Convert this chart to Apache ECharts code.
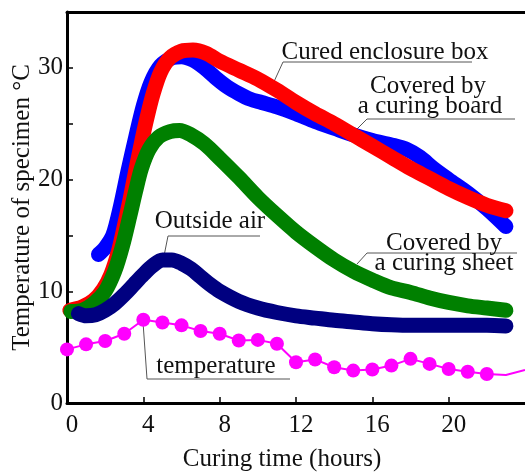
<!DOCTYPE html>
<html>
<head>
<meta charset="utf-8">
<script src="https://cdn.jsdelivr.net/npm/echarts@6/dist/echarts.min.js"></script>
<style>
  html, body { margin: 0; padding: 0; background: #fff; }
  #chart { width: 525px; height: 472px; }
</style>
</head>
<body>
<div id="chart"></div>
<script>
// curing time (hours) and specimen temperature (°C) per condition
const boxHours = [0.15, 0.8, 1.4, 1.9, 2.3, 2.7, 3.0, 3.3, 3.6, 3.9, 4.2, 4.5, 4.9, 5.4, 6.0, 6.6, 7.3, 8.0, 9.0, 10.0, 11.0, 12.0, 13.0, 14.0, 15.0, 16.0, 17.0, 18.0, 19.0, 20.0, 21.0, 22.0, 23.0];
const boxTemp = [8.3, 8.6, 9.2, 10.2, 11.5, 13.6, 15.8, 18.2, 20.8, 23.3, 25.6, 27.6, 29.6, 30.9, 31.5, 31.6, 31.3, 30.6, 29.8, 29.0, 28.0, 26.9, 25.9, 25.0, 24.0, 23.0, 22.0, 21.0, 20.1, 19.2, 18.4, 17.7, 17.2];

const boardHours = [1.65, 2.0, 2.4, 2.8, 3.2, 3.6, 4.0, 4.4, 4.9, 5.5, 6.0, 6.6, 7.2, 7.8, 8.4, 9.0, 9.6, 10.2, 11.0, 12.0, 13.0, 14.0, 15.0, 16.0, 17.0, 17.8, 18.5, 19.2, 20.0, 21.0, 22.0, 23.0];
const boardTemp = [13.3, 13.9, 15.0, 17.6, 20.8, 23.8, 26.6, 28.7, 30.2, 30.9, 31.0, 30.7, 30.0, 29.1, 28.3, 27.7, 27.2, 26.9, 26.5, 25.9, 25.2, 24.6, 24.0, 23.5, 23.1, 22.7, 22.0, 21.0, 20.0, 18.8, 17.4, 15.8];

const sheetHours = [0.2, 0.8, 1.4, 2.0, 2.5, 2.9, 3.3, 3.6, 3.9, 4.3, 4.8, 5.4, 5.9, 6.5, 7.2, 8.0, 9.0, 10.0, 11.0, 12.0, 13.0, 14.0, 15.0, 16.0, 17.0, 18.0, 19.0, 20.0, 21.0, 22.0, 23.0];
const sheetTemp = [8.2, 8.3, 8.9, 10.0, 11.8, 14.0, 16.8, 19.0, 21.0, 22.7, 23.8, 24.3, 24.4, 24.0, 23.2, 21.9, 20.2, 18.4, 16.8, 15.3, 14.0, 12.8, 11.8, 11.0, 10.3, 9.9, 9.4, 9.0, 8.7, 8.5, 8.3];

const airHours = [0.6, 1.0, 1.5, 2.0, 2.5, 3.0, 3.5, 4.0, 4.5, 5.0, 5.5, 6.0, 6.5, 7.0, 7.5, 8.0, 9.0, 10.0, 11.0, 12.0, 13.0, 14.0, 15.0, 16.0, 17.0, 18.0, 19.0, 20.0, 21.0, 22.0, 23.0];
const airTemp = [8.0, 7.8, 7.9, 8.3, 8.9, 9.7, 10.6, 11.5, 12.3, 12.8, 12.8, 12.5, 12.0, 11.3, 10.6, 10.0, 9.1, 8.5, 8.1, 7.8, 7.6, 7.4, 7.25, 7.1, 7.0, 6.95, 6.95, 6.95, 6.95, 6.95, 6.9];

// outside temperature, read hourly (last two points carry no marker)
const outsideHours = [0, 1, 2, 3, 4, 5, 6, 7, 8, 9, 10, 11, 12, 13, 14, 15, 16, 17, 18, 19, 20, 21, 22, 23, 24];
const outsideTemp = [4.8, 5.25, 5.55, 6.2, 7.45, 7.2, 6.95, 6.45, 6.2, 5.6, 5.65, 5.3, 3.65, 3.9, 3.2, 2.9, 3.0, 3.35, 3.95, 3.5, 3.05, 2.8, 2.6, 2.5, 2.95];
const markedCount = 23;

const xTicks = [0, 4, 8, 12, 16, 20];
const yTicks = [0, 10, 20, 30];

const serifFamily = 'Liberation Serif';
const chart = echarts.init(document.getElementById('chart'));

const pairs = (xs, ys) => xs.map((x, i) => [x, ys[i]]);

const thick = (name, xs, ys, color) => ({
  name,
  type: 'line',
  data: pairs(xs, ys),
  smooth: 0.3,
  showSymbol: false,
  silent: true,
  lineStyle: { color, width: 15, cap: 'round', join: 'round' },
});

const outsideData = outsideHours.map((h, i) =>
  i < markedCount ? [h, outsideTemp[i]] : { value: [h, outsideTemp[i]], symbol: 'none' }
);

const textEl = (text, x, y) => ({
  type: 'text',
  style: { text, x, y, font: '25px ' + serifFamily, fill: '#111', align: 'center', verticalAlign: 'middle' },
});
const leader = (points) => ({
  type: 'polyline',
  shape: { points },
  style: { stroke: '#555', lineWidth: 1, fill: null },
});

const labelText = { fontFamily: serifFamily, fontSize: 25, color: '#111' };

const option = {
  animation: false,
  textStyle: { fontFamily: serifFamily },
  grid: { left: 67, right: 0, top: 12, bottom: 69, outerBoundsMode: 'none' },
  xAxis: [
    {
      type: 'value',
      min: 0,
      max: 24,
      interval: 4,
      name: 'Curing time (hours)',
      nameLocation: 'middle',
      nameGap: 44,
      nameMoveOverlap: false,
      nameTextStyle: { ...labelText, padding: [0, 28, 0, 0] },
      axisLine: { lineStyle: { color: '#000', width: 3 } },
      axisTick: { inside: true, length: 6, lineStyle: { color: '#000', width: 1.5 } },
      axisLabel: {
        ...labelText, margin: 10,
        padding: [0, 0, 0, 10], showMaxLabel: false,
        formatter: (v) => (xTicks.includes(v) ? String(v) : ''),
      },
      splitLine: { show: false },
    },
    {
      type: 'value',
      position: 'top',
      min: 0,
      max: 24,
      axisLine: { show: true, lineStyle: { color: '#000', width: 3 } },
      axisTick: { show: false },
      axisLabel: { show: false },
      splitLine: { show: false },
    },
  ],
  yAxis: {
    type: 'value',
    min: 0,
    max: 35,
    interval: 5,
    name: 'Temperature of specimen °C',
    nameLocation: 'middle',
    nameGap: 32,
    nameMoveOverlap: false,
    nameTextStyle: labelText,
    axisLine: { show: true, lineStyle: { color: '#000', width: 3 } },
    axisTick: { inside: true, length: 6, lineStyle: { color: '#000', width: 1.5 } },
    axisLabel: {
      ...labelText, margin: 4,
      formatter: (v) => (yTicks.includes(v) ? String(v) : ''),
    },
    splitLine: { show: false },
  },
  series: [
    thick('Covered by a curing board', boardHours, boardTemp, '#0000ff'),
    thick('Cured enclosure box', boxHours, boxTemp, '#ff0000'),
    thick('Covered by a curing sheet', sheetHours, sheetTemp, '#008000'),
    thick('Outside air', airHours, airTemp, '#000080'),
    {
      name: 'temperature',
      type: 'line',
      data: outsideData,
      symbol: 'circle',
      symbolSize: 14,
      silent: true,
      itemStyle: { color: '#ff00ff' },
      lineStyle: { color: '#ff00ff', width: 2 },
    },
  ],
  graphic: [
    leader([[472, 62], [283, 62], [272, 86]]),
    textEl('Cured enclosure box', 385, 52),
    leader([[515, 119], [367, 119], [355, 131]]),
    textEl('Covered by', 428, 86),
    textEl('a curing board', 430, 106),
    leader([[517, 253], [367, 253], [357, 264]]),
    textEl('Covered by', 444, 243),
    textEl('a curing sheet', 444, 263),
    leader([[260, 236], [168, 236], [163, 261]]),
    textEl('Outside air', 210, 221),
    leader([[290, 379], [147, 379], [143, 322]]),
    textEl('temperature', 216, 366),
  ],
};

chart.setOption(option);
</script>
</body>
</html>
